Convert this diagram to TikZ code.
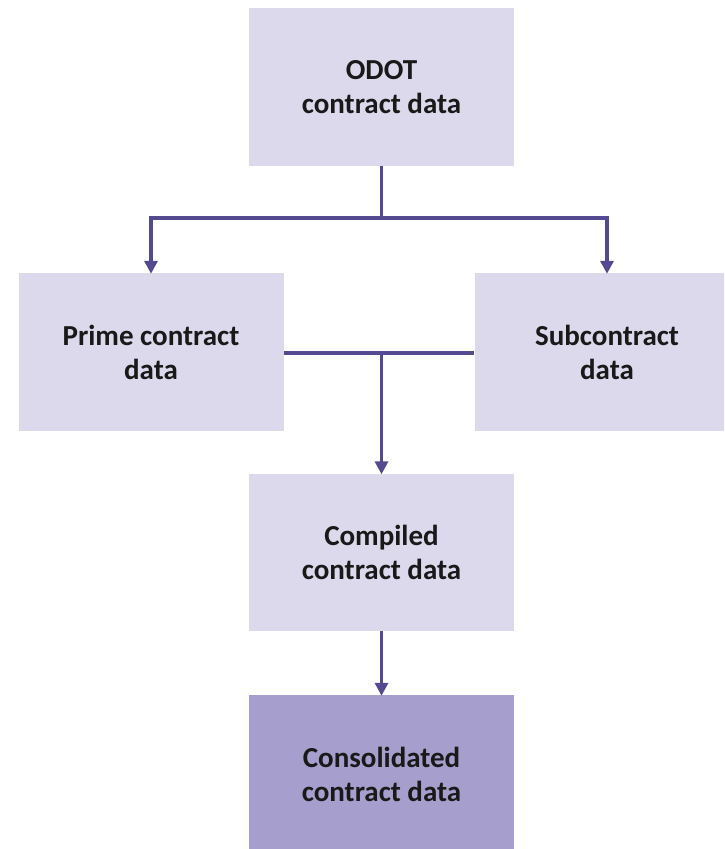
\documentclass[tikz,border=0pt]{standalone}
\usepackage{fontspec}
\setmainfont{Carlito}
\usetikzlibrary{arrows.meta}
\definecolor{boxlight}{HTML}{DDD9EC}
\definecolor{boxdark}{HTML}{A69ECC}
\definecolor{linec}{HTML}{544A91}
\tikzset{
  box/.style={rectangle, fill=boxlight, draw=none, minimum width=265pt, inner sep=0pt,
    align=center, font=\fontsize{29}{34}\selectfont\bfseries, text=black!90},
  conn/.style={draw=linec, line width=3.2pt},
  arr/.style={conn, -{Triangle[width=13pt,length=13pt]}, shorten >=-1pt}
}
\begin{document}
\begin{tikzpicture}[x=1pt,y=-1pt]
\useasboundingbox (0,0) rectangle (724,849);
\clip (0,0) rectangle (724,849);
\node[box, minimum height=158pt] (odot) at (381.5,87) {ODOT\\contract data};
\node[box, minimum height=158pt] (prime) at (151,352) {Prime contract\\data};
\node[box, minimum height=158pt] (sub) at (607,352) {Subcontract\\data};
\node[box, minimum height=157pt] (comp) at (381.5,552) {Compiled\\contract data};
\node[box, fill=boxdark, minimum height=158pt] (cons) at (381.5,774) {Consolidated\\contract data};
\coordinate (split) at (381.5,218);
\coordinate (merge) at (381.5,353);
\draw[conn] (odot.south) -- (split);
\draw[arr] (split) -| (prime.north);
\draw[arr] (split) -| (sub.north);
\draw[conn] (prime.east |- merge) -- (sub.west |- merge);
\draw[arr] (merge) -- (comp.north);
\draw[arr] (comp.south) -- (cons.north);
\end{tikzpicture}
\end{document}
